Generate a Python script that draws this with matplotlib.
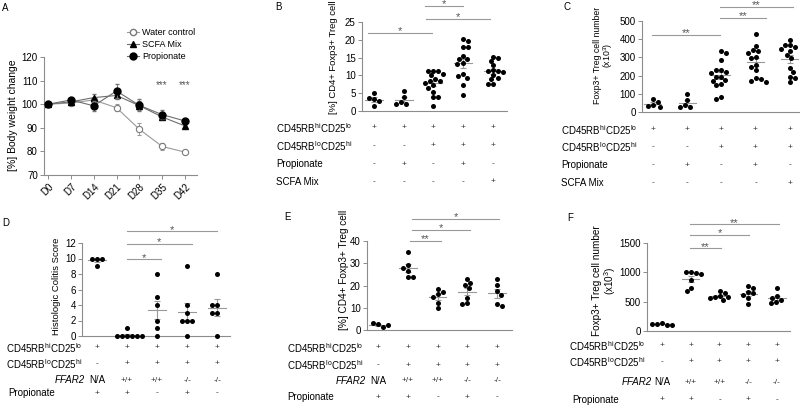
import matplotlib
matplotlib.use("Agg")

import matplotlib.pyplot as plt
import matplotlib.transforms as mtransforms
from matplotlib.lines import Line2D
import numpy as np

plt.rcParams["font.family"] = ["Liberation Sans", "DejaVu Sans"]
plt.rcParams["mathtext.fontset"] = "custom"
plt.rcParams["mathtext.rm"] = "Liberation Sans"
plt.rcParams["mathtext.it"] = "Liberation Sans:italic"
plt.rcParams["mathtext.bf"] = "Liberation Sans:bold"

# ---------------- data ----------------
days = ["D0", "D7", "D14", "D21", "D28", "D35", "D42"]
water_mean = [100, 100.5, 101.8, 98.5, 89.4, 82.1, 79.7]
water_sem = [0.3, 1.0, 1.0, 1.5, 2.6, 1.3, 1.0]
scfa_mean = [100, 101.0, 102.8, 103.7, 99.4, 94.6, 90.8]
scfa_sem = [0.3, 1.0, 1.5, 1.5, 2.0, 1.0, 1.0]
prop_mean = [100, 101.8, 99.3, 105.6, 99.5, 95.6, 92.9]
prop_sem = [0.3, 1.0, 2.0, 3.0, 2.5, 2.0, 1.0]
a_sig_days = ["D35", "D42"]

b_groups = [
    [5.0, 3.3, 3.6, 2.8, 1.3],
    [5.7, 3.8, 2.5, 2.0, 2.0],
    [11.3, 11.2, 11.3, 10.5, 10.0, 9.0, 8.5, 8.3, 8.0, 7.2, 6.5, 5.2, 3.8, 3.8, 1.5],
    [20.2, 19.8, 17.9, 17.9, 15.4, 14.5, 14.5, 13.6, 13.2, 10.3, 9.8, 9.2, 7.3, 4.5],
    [15.3, 14.8, 14.1, 12.9, 11.5, 11.2, 11.2, 11.0, 10.1, 9.4, 8.9, 7.5, 7.5],
]
c_groups = [
    [70, 55, 40, 35, 30],
    [100, 65, 40, 25, 25],
    [335, 325, 285, 230, 230, 222, 215, 195, 190, 175, 170, 155, 150, 80, 72],
    [428, 364, 340, 335, 326, 304, 295, 258, 249, 231, 188, 179, 172, 167],
    [395, 368, 368, 359, 346, 337, 313, 295, 240, 218, 194, 185, 163],
]
d_groups = [
    [10, 10, 10, 9],
    [0, 0, 0, 0, 0, 0, 1],
    [8, 5, 4, 2, 1, 0],
    [9, 4, 3, 2, 2, 2, 0],
    [8, 4, 4, 3, 3, 0],
]
e_groups = [
    [2.5, 1.5, 3.0, 2.2],
    [35.2, 29.2, 28.0, 26.5, 24.0, 24.0],
    [18.3, 17.0, 16.0, 15.0, 12.3, 9.8],
    [22.9, 21.0, 20.2, 18.7, 14.2, 12.0, 11.7],
    [22.9, 20.2, 17.5, 15.7, 11.7, 10.9],
]
f_groups = [
    [130, 110, 125, 105, 115],
    [1010, 985, 1010, 965, 870, 740, 680],
    [690, 645, 600, 585, 575, 555, 530],
    [770, 740, 660, 640, 610, 570, 460],
    [730, 600, 570, 530, 500, 470],
]

hi_lo = r"CD45RB$^{\mathrm{hi}}$CD25$^{\mathrm{lo}}$"
lo_hi = r"CD45RB$^{\mathrm{lo}}$CD25$^{\mathrm{hi}}$"
bc_rows = [hi_lo, lo_hi, "Propionate", "SCFA Mix"]
bc_signs = [
    ["+", "+", "+", "+", "+"],
    ["-", "-", "+", "+", "+"],
    ["-", "+", "-", "+", "-"],
    ["-", "-", "-", "-", "+"],
]
def_rows = [hi_lo, lo_hi, "FFAR2", "Propionate"]
def_signs = [
    ["+", "+", "+", "+", "+"],
    ["-", "+", "+", "+", "+"],
    ["N/A", "+/+", "+/+", "-/-", "-/-"],
    ["+", "+", "-", "+", "-"],
]

# significance brackets: (from, to, height, label)
b_sig = [(-0.2, 1.95, 21.9, "*"), (1.71, 3.0, 29.6, "*"), (1.75, 3.9, 25.9, "*")]
c_sig = [(-0.04, 1.96, 423, "**"), (1.96, 3.31, 516, "**"), (1.96, 4.09, 578, "**")]
d_sig = [(0.99, 2.13, 9.9, "*"), (0.99, 3.16, 11.9, "*"), (0.99, 3.99, 13.5, "*")]
e_sig = [(1.08, 2.12, 40.0, "**"), (1.13, 3.09, 44.9, "*"), (1.13, 4.08, 49.9, "*")]
f_sig = [(0.97, 2.05, 1410, "**"), (0.97, 3.03, 1636, "*"), (0.97, 4.08, 1819, "**")]

# ---------------- figure ----------------
W, H = 800, 405
AXC = "#8c8c8c"
GRAYL = "#999999"
SIGNC = "#333333"

fig = plt.figure(figsize=(W / 100, H / 100), dpi=100)


def add_ax(left, top, right, bottom):
    return fig.add_axes([left / W, 1 - bottom / H, (right - left) / W, (bottom - top) / H])


def style(ax):
    ax.spines["top"].set_visible(False)
    ax.spines["right"].set_visible(False)
    for s in ["left", "bottom"]:
        ax.spines[s].set_color(AXC)
        ax.spines[s].set_linewidth(0.8)
    ax.tick_params(axis="y", length=3, width=0.7, color=AXC, labelsize=7, pad=1.5)
    ax.patch.set_alpha(0)


def swarm_x(vals, ax, d=5.0):
    # simple beeswarm layout, computed in pixel space
    bb = ax.get_position()
    x0, x1 = ax.get_xlim()
    y0, y1 = ax.get_ylim()
    sx = bb.width * W / (x1 - x0)
    sy = bb.height * H / (y1 - y0)
    placed = []
    offs = []
    cands = np.arange(0, 15 * d, d / 4)
    for n, v in enumerate(vals):
        y = v * sy
        done = False
        for c in cands:
            opts = [0.0] if c == 0 else ([c, -c] if n % 2 else [-c, c])
            for x in opts:
                if all((x - px) ** 2 + (y - py) ** 2 >= 0.95 * d * d for px, py in placed):
                    placed.append((x, y))
                    offs.append(x)
                    done = True
                    break
            if done:
                break
    return np.array(offs) / sx


def dot_panel(ax, groups, xlim, ymax, yticks, hw=0.3):
    style(ax)
    ax.set_xlim(*xlim)
    ax.set_ylim(0, ymax)
    ax.set_yticks(yticks)
    ax.set_xticks([])
    for i, g in enumerate(groups):
        off = swarm_x(g, ax)
        ax.scatter(i + off, g, s=13, color="black", linewidths=0, zorder=3, clip_on=False)
        m = np.mean(g)
        se = np.std(g, ddof=1) / np.sqrt(len(g))
        ax.plot([i - hw, i + hw], [m, m], color=GRAYL, lw=0.8, zorder=2)
        ax.errorbar(i, m, yerr=se, color=GRAYL, lw=0.8, capsize=2, capthick=0.8, zorder=2)


def brackets(ax, sigs, fs=8):
    for x0, x1, y, lab in sigs:
        ax.plot([x0, x1], [y, y], color=GRAYL, lw=0.8, clip_on=False)
        ax.annotate(lab, ((x0 + x1) / 2, y), xytext=(0, -2.5), textcoords="offset points",
                    ha="center", va="bottom", fontsize=fs, color="#555555", annotation_clip=False)


def table(ax, row_y, labels, label_pos, signs):
    tr = mtransforms.blended_transform_factory(ax.transData, fig.transFigure)
    for lab, (lx, ha), y, row in zip(labels, label_pos, row_y, signs):
        it = "italic" if lab == "FFAR2" else "normal"
        fig.text(lx / W, 1 - y / H, lab, ha=ha, va="center", fontsize=7, fontstyle=it)
        for i, s in enumerate(row):
            col = "black" if s == "N/A" else SIGNC
            fsz = 7 if s == "N/A" else 6
            ax.text(i, 1 - y / H, s, transform=tr, ha="center", va="center",
                    fontsize=fsz, color=col, clip_on=False)


def letter(x, y, t):
    fig.text(x / W, 1 - y / H, t, ha="left", va="center", fontsize=7)


def ylab(x, y, t, fs=7):
    fig.text(x / W, 1 - y / H, t, rotation=90, ha="center", va="center", fontsize=fs,
             linespacing=1.0, multialignment="center")


# ---- Panel A ----
axA = add_ax(44, 57, 197, 175)
style(axA)
axA.set_xlim(-0.18, len(days) - 0.47)
axA.set_ylim(70, 120)
axA.set_yticks([70, 80, 90, 100, 110, 120])
xd = np.arange(len(days))
axA.errorbar(xd, water_mean, yerr=water_sem, color="#9a9a9a", lw=0.8, marker="o", ms=4.5,
             mfc="white", mec="#7a7a7a", mew=0.8, capsize=1.5, elinewidth=0.7, zorder=2,
             clip_on=False)
axA.errorbar(xd, scfa_mean, yerr=scfa_sem, color="#6e6e6e", lw=0.8, marker="^", ms=4.5,
             mfc="black", mec="black", capsize=1.5, elinewidth=0.7, ecolor="#777777", zorder=3,
             clip_on=False)
axA.errorbar(xd, prop_mean, yerr=prop_sem, color="#6e6e6e", lw=0.8, marker="o", ms=5,
             mfc="black", mec="black", capsize=1.5, elinewidth=0.7, ecolor="#777777", zorder=4,
             clip_on=False)
axA.set_xticks(xd)
axA.set_xticklabels(days, rotation=45, ha="right", rotation_mode="anchor", fontsize=7)
axA.tick_params(axis="x", length=3, width=0.7, color=AXC, pad=2)
for dname in a_sig_days:
    axA.text(days.index(dname), 108.2, "***", ha="center", va="center", fontsize=7, color="#555555")
ylab(13, 115, "[%] Body weight change", fs=7.5)
handles = [
    Line2D([], [], color="#9a9a9a", lw=0.8, marker="o", ms=4.5, mfc="white", mec="#7a7a7a"),
    Line2D([], [], color="#6e6e6e", lw=0.8, marker="^", ms=4.5, mfc="black", mec="black"),
    Line2D([], [], color="#6e6e6e", lw=0.8, marker="o", ms=5, mfc="black", mec="black"),
]
fig.legend(handles, ["Water control", "SCFA Mix", "Propionate"], loc="upper left",
           bbox_to_anchor=(127 / W, 1 - 28 / H), frameon=False, fontsize=6.5,
           handlelength=1.3, handletextpad=0.4, labelspacing=0.35, borderpad=0, borderaxespad=0)
letter(2, 8, "A")

# ---- Panel B ----
axB = add_ax(362, 22, 507, 111)
dot_panel(axB, b_groups, (-0.4, 4.47), 25, [0, 5, 10, 15, 20, 25], hw=0.3)
brackets(axB, b_sig)
table(axB, [128, 146, 164, 182], bc_rows, [(276, "left")] * 4, bc_signs)
ylab(333, 57, "[%] CD4+ Foxp3+ Treg cell", fs=6.8)
letter(275, 7, "B")

# ---- Panel C ----
axC = add_ax(642, 21, 800, 112)
dot_panel(axC, c_groups, (-0.32, 4.3), 500, [0, 100, 200, 300, 400, 500], hw=0.25)
brackets(axC, c_sig)
table(axC, [130, 147, 165, 183], bc_rows, [(561, "left")] * 4, bc_signs)
ylab(604, 55, "Foxp3+ Treg cell number\n(x10$^{3}$)", fs=6.3)
letter(563, 7, "C")

# ---- Panel D ----
axD = add_ax(82, 243, 230, 336)
dot_panel(axD, d_groups, (-0.5, 4.43), 12, [0, 2, 4, 6, 8, 10, 12], hw=0.3)
brackets(axD, d_sig)
table(axD, [348, 364, 380, 393], def_rows,
      [(6, "left"), (6, "left"), (85, "right"), (8, "left")], def_signs)
ylab(57, 286, "Histologic Colitis Score", fs=6.8)
letter(2, 223, "D")

# ---- Panel E ----
axE = add_ax(367, 241, 512, 330)
dot_panel(axE, e_groups, (-0.37, 4.5), 40, [0, 10, 20, 30, 40], hw=0.3)
brackets(axE, e_sig)
table(axE, [348, 365, 381, 397], def_rows,
      [(287, "left"), (287, "left"), (366, "right"), (287, "left")], def_signs)
ylab(344, 270, "[%] CD4+ Foxp3+ Treg cell", fs=7.2)
letter(284, 217, "E")

# ---- Panel F ----
axF = add_ax(647, 243, 790, 331)
dot_panel(axF, f_groups, (-0.52, 4.45), 1500, [0, 500, 1000, 1500], hw=0.3)
brackets(axF, f_sig)
table(axF, [346, 362, 382, 400], def_rows,
      [(569, "left"), (569, "left"), (652, "right"), (572, "left")], def_signs)
ylab(605, 281, "Foxp3+ Treg cell number\n(x10$^{3}$)", fs=7.2)
letter(567, 218, "F")

fig.savefig("out.png", dpi=100)
plt.close(fig)
